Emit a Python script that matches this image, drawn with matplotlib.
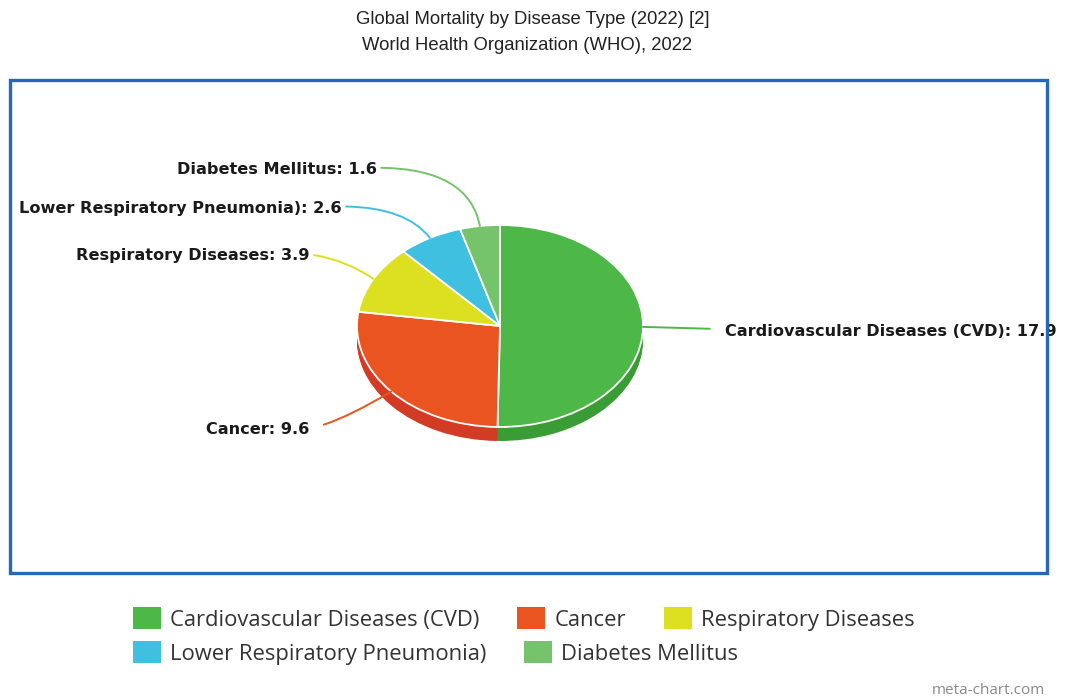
import matplotlib
matplotlib.use("Agg")
import matplotlib.pyplot as plt
from matplotlib.patches import Patch, Rectangle
import numpy as np

# データ
categories = [
    "Cardiovascular Diseases (CVD)",
    "Cancer",
    "Respiratory Diseases",
    "Lower Respiratory Pneumonia)",
    "Diabetes Mellitus",
]
deaths = [17.9, 9.6, 3.9, 2.6, 1.6]
colors = ["#4db848", "#ea5421", "#dde020", "#3fc0e0", "#75c36b"]
side_colors = ["#3a9c34", "#d23c24", "#c0c31a", "#2ea4c2", "#5fa856"]

W, H = 1065, 700
fig = plt.figure(figsize=(W / 100, H / 100), dpi=100)
fig.patch.set_facecolor("white")


def fpx(x, y):
    # ピクセル座標(左上原点) -> figure fraction
    return (x / W, 1 - y / H)


# タイトル
fig.text(*fpx(533, 19), "Global Mortality by Disease Type (2022) [2]",
         ha="center", va="center", fontsize=13.3, family="Liberation Sans", color="#222222")
fig.text(*fpx(527, 46), "World Health Organization (WHO), 2022",
         ha="center", va="center", fontsize=13.3, family="Liberation Sans", color="#222222")

# 3D風の円グラフ（上面の楕円: x 357..643, y 225..427）
pie_ax = fig.add_axes([357 / W, 1 - 427 / H, 286 / W, 202 / H])
depth = 14  # px
ry = 101.0

for k in range(depth, 0, -1):
    side, _ = pie_ax.pie(deaths, colors=side_colors, startangle=90, counterclock=False,
                         center=(0, -k / ry), radius=1,
                         wedgeprops=dict(edgecolor="none", linewidth=0))
    for w in side:
        w.set_clip_on(False)

wedges, _ = pie_ax.pie(deaths, colors=colors, startangle=90, counterclock=False,
                       radius=1, wedgeprops=dict(edgecolor="white", linewidth=1.3))
for w in wedges:
    w.set_clip_on(False)
pie_ax.set_aspect("auto")
pie_ax.set_xlim(-1, 1)
pie_ax.set_ylim(-1, 1)
pie_ax.axis("off")

# ラベルと引き出し線
label_pos = [(725, 331), (309, 430), (310, 256), (342, 208), (377, 170)]
label_ha = ["left", "right", "right", "right", "right"]
relpos = [(0, 0.62), (1, 0.6), (1, 0.6), (1, 0.6), (1, 0.65)]
shrink_a = [9, 9, 1, 1, 1]
conn = [
    "arc3,rad=0",
    "angle3,angleA=10,angleB=31",
    "arc3,rad=-0.12",
    "angle3,angleA=0,angleB=128",
    "angle3,angleA=0,angleB=101",
]

for i, w in enumerate(wedges):
    mid = np.deg2rad((w.theta1 + w.theta2) / 2)
    anchor = (np.cos(mid), np.sin(mid))
    pie_ax.annotate(
        f"{categories[i]}: {deaths[i]}",
        xy=anchor, xycoords="data",
        xytext=fpx(*label_pos[i]), textcoords="figure fraction",
        ha=label_ha[i], va="center", fontsize=11.6, fontweight="bold",
        family="DejaVu Sans", color="#1a1a1a", annotation_clip=False,
        arrowprops=dict(arrowstyle="-", color=colors[i], lw=1.4,
                        connectionstyle=conn[i], shrinkA=shrink_a[i], shrinkB=0,
                        relpos=relpos[i]),
        zorder=3,
    )

# 枠線
fig.add_artist(Rectangle(fpx(10, 573), 1037 / W, 493 / H, transform=fig.transFigure,
                         fill=False, edgecolor="#2468be", linewidth=2.4, zorder=10))

# 凡例（2行のフローレイアウト）
fs = 15.8
px_per_em = fs * 100 / 72
leg_kw = dict(frameon=False, loc="upper left",
              prop=dict(family="Open Sans", size=fs),
              handlelength=28 / px_per_em, handleheight=26 / px_per_em,
              handletextpad=9 / px_per_em, columnspacing=38 / px_per_em,
              borderpad=0, borderaxespad=0, labelcolor="#333333")
row1 = [Patch(facecolor=colors[i], edgecolor="none", label=categories[i]) for i in range(3)]
row2 = [Patch(facecolor=colors[i], edgecolor="none", label=categories[i]) for i in range(3, 5)]
leg1 = fig.legend(handles=row1, ncol=3, bbox_to_anchor=fpx(133, 607), **leg_kw)
leg2 = fig.legend(handles=row2, ncol=2, bbox_to_anchor=fpx(133, 641), **leg_kw)

fig.text(*fpx(1045, 690), "meta-chart.com", ha="right", va="center",
         fontsize=11, family="Open Sans", color="#8a8a8a")

fig.savefig("out.png", dpi=100, facecolor="white")
plt.close()
